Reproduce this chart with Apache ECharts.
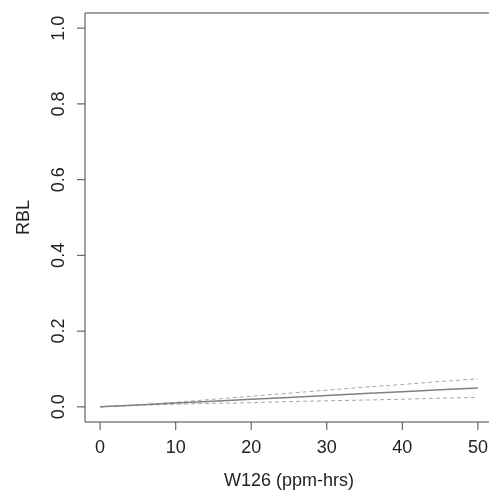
<!DOCTYPE html>
<html>
<head>
<meta charset="utf-8">
<script src="https://cdn.jsdelivr.net/npm/echarts@6/dist/echarts.min.js"></script>
<style>
html,body{margin:0;padding:0;background:#fff;}
#c{width:489px;height:494px;}
</style>
</head>
<body>
<div id="c"></div>
<script>
const xValues = [0, 5, 10, 15, 20, 25, 30, 35, 40, 45, 50];
const fitRBL = [0, 0.005, 0.010, 0.015, 0.020, 0.025, 0.030, 0.035, 0.040, 0.045, 0.050];
const upperRBL = [0, 0.005, 0.012, 0.020, 0.028, 0.036, 0.044, 0.052, 0.059, 0.067, 0.074];
const lowerRBL = [0, 0.004, 0.007, 0.009, 0.011, 0.014, 0.016, 0.018, 0.020, 0.023, 0.025];
const xTicks = [0, 10, 20, 30, 40, 50];
const yTicks = [0, 0.2, 0.4, 0.6, 0.8, 1.0];

const pairs = (ys) => xValues.map((x, i) => [x, ys[i]]);
const font = 'Liberation Sans, Arial, sans-serif';
const X_MIN = -2, X_MAX = 52, Y_MIN = -0.04, Y_MAX = 1.04;

const chart = echarts.init(document.getElementById('c'), null, {renderer: 'canvas'});
chart.setOption({
  animation: false,
  backgroundColor: '#ffffff',
  grid: {
    left: 85, top: 13, right: -4, bottom: 72,
    outerBoundsMode: 'none',
    show: true, borderColor: '#444', borderWidth: 1, backgroundColor: 'transparent'
  },
  xAxis: {
    type: 'value', min: X_MIN, max: X_MAX,
    splitLine: {show: false},
    axisLine: {show: false, onZero: false},
    axisTick: {show: false},
    axisLabel: {customValues: xTicks, fontSize: 18, color: '#222', fontFamily: font, margin: 17},
    name: 'W126 (ppm-hrs)', nameLocation: 'middle', nameGap: 50,
    nameTextStyle: {fontSize: 18, color: '#222', fontFamily: font}
  },
  yAxis: {
    type: 'value', min: Y_MIN, max: Y_MAX,
    splitLine: {show: false},
    axisLine: {show: false, onZero: false},
    axisTick: {show: false},
    axisLabel: {customValues: yTicks, rotate: 90, fontSize: 18, color: '#222', fontFamily: font, margin: 17,
      formatter: v => v.toFixed(1)},
    name: 'RBL', nameLocation: 'middle', nameGap: 52, nameRotate: 90,
    nameTextStyle: {fontSize: 18, color: '#222', fontFamily: font}
  },
  series: [
    {type: 'line', data: pairs(upperRBL), showSymbol: false, lineStyle: {color: '#a8a8a8', width: 1, type: [4, 3]}},
    {type: 'line', data: pairs(lowerRBL), showSymbol: false, lineStyle: {color: '#a8a8a8', width: 1, type: [4, 3]}},
    {type: 'line', data: pairs(fitRBL), showSymbol: false, lineStyle: {color: '#808080', width: 1.5}},
    // outward axis ticks, placed through the axes' own scales
    {type: 'scatter', silent: true, clip: false, z: 10,
      data: xTicks.map(v => [v, Y_MIN]),
      symbol: 'rect', symbolSize: [1.2, 8], symbolOffset: [0, 4],
      itemStyle: {color: '#444'}},
    {type: 'scatter', silent: true, clip: false, z: 10,
      data: yTicks.map(v => [X_MIN, v]),
      symbol: 'rect', symbolSize: [8, 1.2], symbolOffset: [-4, 0],
      itemStyle: {color: '#444'}}
  ]
});
</script>
</body>
</html>
